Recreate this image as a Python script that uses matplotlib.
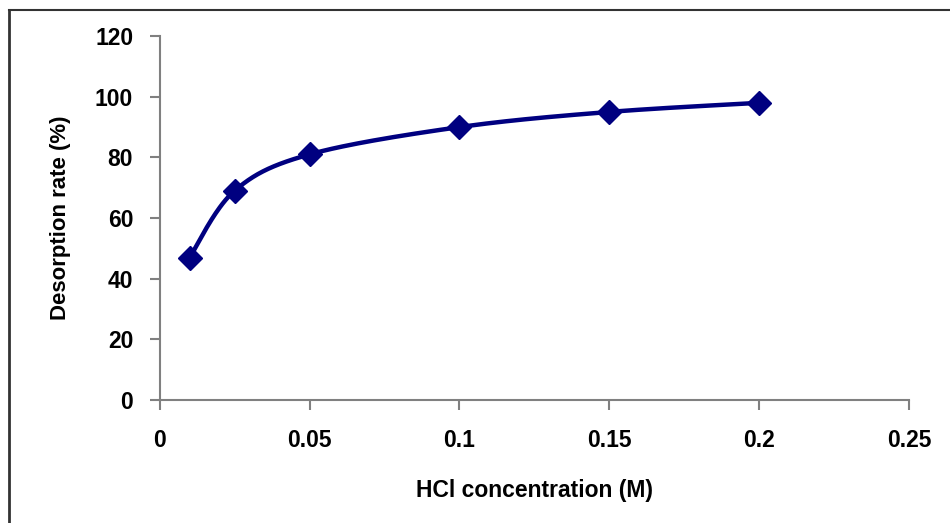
import matplotlib.pyplot as plt
import numpy as np
from matplotlib.lines import Line2D

plt.rcParams["font.family"] = ["Liberation Sans Narrow", "Liberation Sans", "DejaVu Sans"]
plt.rcParams["font.weight"] = "bold"

hcl_conc = [0.01, 0.025, 0.05, 0.1, 0.15, 0.2]
desorption = [47, 69, 81, 90, 95, 98]
x_ticks = [0, 0.05, 0.1, 0.15, 0.2, 0.25]
x_tick_labels = ["0", "0.05", "0.1", "0.15", "0.2", "0.25"]
y_ticks = [0, 20, 40, 60, 80, 100, 120]

NAVY = "#000080"
AXIS_GREY = "#808080"


def smooth_curve(xs, ys, n=40):
    """Excel-style smoothed line: cubic Bezier segments with Catmull-Rom handles."""
    xs = np.asarray(xs, float)
    ys = np.asarray(ys, float)
    pts = np.column_stack([xs, ys])
    out = []
    for i in range(len(pts) - 1):
        p0 = pts[i - 1] if i > 0 else pts[i]
        p1 = pts[i]
        p2 = pts[i + 1]
        p3 = pts[i + 2] if i + 2 < len(pts) else pts[i + 1]
        c1 = p1 + (p2 - p0) / 6.0
        c2 = p2 - (p3 - p1) / 6.0
        t = np.linspace(0, 1, n)[:, None]
        seg = ((1 - t) ** 3 * p1 + 3 * (1 - t) ** 2 * t * c1
               + 3 * (1 - t) * t ** 2 * c2 + t ** 3 * p2)
        out.append(seg if i == 0 else seg[1:])
    seg = np.vstack(out)
    return seg[:, 0], seg[:, 1]


fig = plt.figure(figsize=(9.5, 5.23), dpi=100)
ax = fig.add_axes([0.168, 0.235, 0.789, 0.696])

sx, sy = smooth_curve(hcl_conc, desorption)
ax.plot(sx, sy, color=NAVY, lw=3.2, solid_capstyle="round", zorder=3)
ax.plot(hcl_conc, desorption, linestyle="none", marker="D", markersize=12.5,
        color=NAVY, zorder=4)

ax.set_xlim(0, 0.25)
ax.set_ylim(0, 120)
ax.set_xticks(x_ticks)
ax.set_xticklabels(x_tick_labels)
ax.set_yticks(y_ticks)

for side in ["top", "right"]:
    ax.spines[side].set_visible(False)
for side in ["left", "bottom"]:
    ax.spines[side].set_color(AXIS_GREY)
    ax.spines[side].set_linewidth(1.5)

ax.tick_params(axis="both", colors=AXIS_GREY, width=1.5, length=7,
               labelsize=16.5, labelcolor="black")
ax.tick_params(axis="x", pad=14)
ax.tick_params(axis="y", pad=12)

ax.set_xlabel("HCl concentration (M)", fontsize=16.5, fontweight="bold", labelpad=19)
ax.set_ylabel("Desorption rate (%)", fontsize=16, fontweight="bold", labelpad=17)

# outer frame: only left and top edges visible
fig.add_artist(Line2D([0.009, 0.009], [0.0, 0.981], transform=fig.transFigure,
                      color="#333333", lw=2.0))
fig.add_artist(Line2D([0.009, 1.0], [0.981, 0.981], transform=fig.transFigure,
                      color="#333333", lw=1.5))

fig.savefig("out.png", dpi=100)
